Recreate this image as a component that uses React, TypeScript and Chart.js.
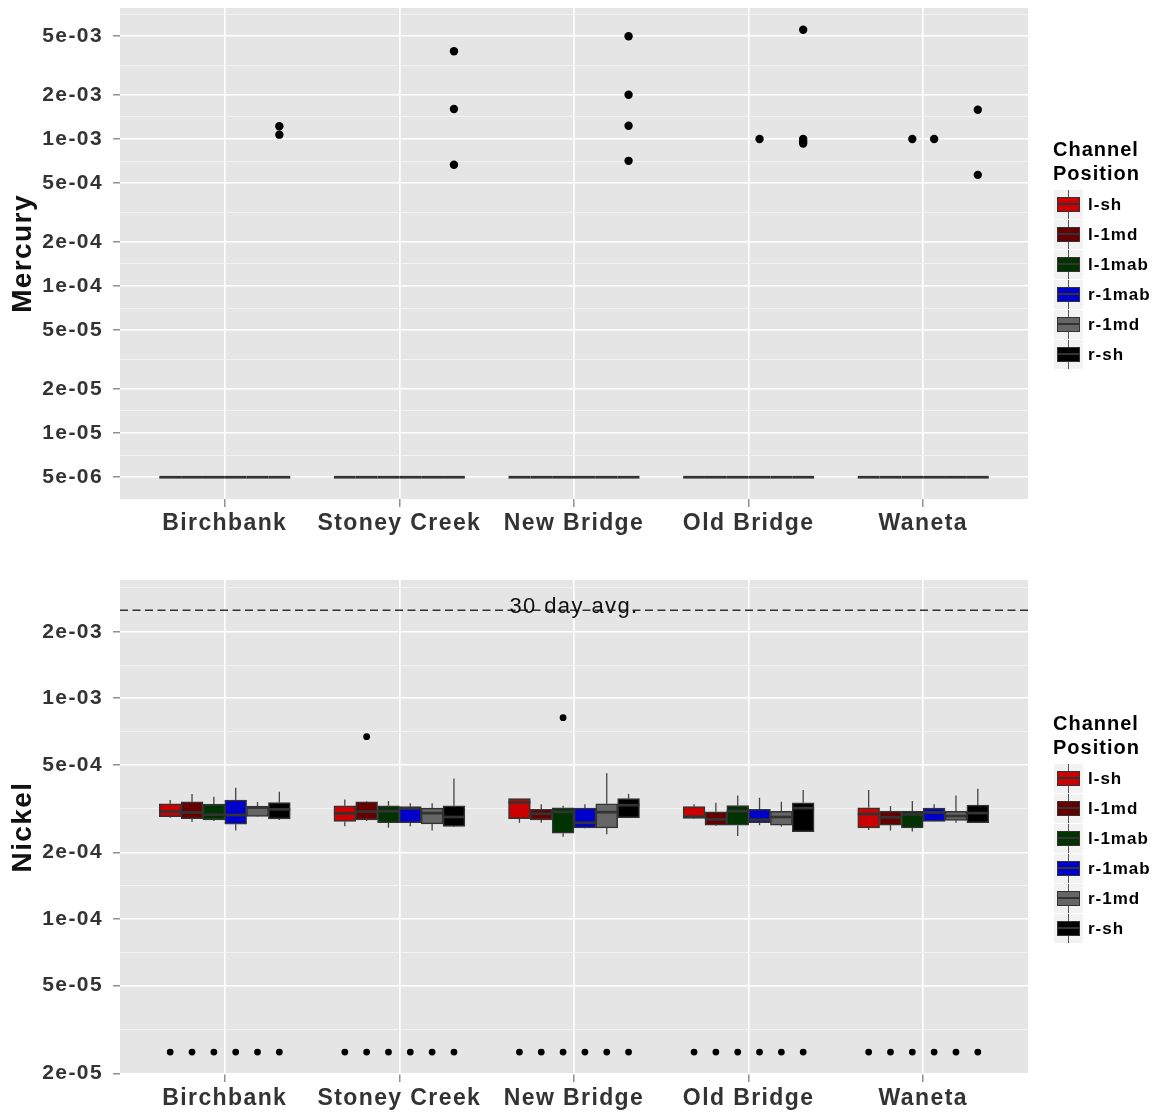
import React, { useEffect, useRef } from "react";
import { Chart, registerables } from "chart.js";

Chart.register(...registerables);

// ---------------- data ----------------
const sites = ["Birchbank", "Stoney Creek", "New Bridge", "Old Bridge", "Waneta"];
const positions = ["l-sh", "l-1md", "l-1mab", "r-1mab", "r-1md", "r-sh"];
const positionColors = ["#CC0000", "#660000", "#003300", "#0000CC", "#666666", "#000000"];

// Mercury box statistics per site: [min, q1, median, q3, max]
const hgLsh = [[5e-6, 5e-6, 5e-6, 5e-6, 5e-6], [5e-6, 5e-6, 5e-6, 5e-6, 5e-6], [5e-6, 5e-6, 5e-6, 5e-6, 5e-6], [5e-6, 5e-6, 5e-6, 5e-6, 5e-6], [5e-6, 5e-6, 5e-6, 5e-6, 5e-6]];
const hgL1md = [[5e-6, 5e-6, 5e-6, 5e-6, 5e-6], [5e-6, 5e-6, 5e-6, 5e-6, 5e-6], [5e-6, 5e-6, 5e-6, 5e-6, 5e-6], [5e-6, 5e-6, 5e-6, 5e-6, 5e-6], [5e-6, 5e-6, 5e-6, 5e-6, 5e-6]];
const hgL1mab = [[5e-6, 5e-6, 5e-6, 5e-6, 5e-6], [5e-6, 5e-6, 5e-6, 5e-6, 5e-6], [5e-6, 5e-6, 5e-6, 5e-6, 5e-6], [5e-6, 5e-6, 5e-6, 5e-6, 5e-6], [5e-6, 5e-6, 5e-6, 5e-6, 5e-6]];
const hgR1mab = [[5e-6, 5e-6, 5e-6, 5e-6, 5e-6], [5e-6, 5e-6, 5e-6, 5e-6, 5e-6], [5e-6, 5e-6, 5e-6, 5e-6, 5e-6], [5e-6, 5e-6, 5e-6, 5e-6, 5e-6], [5e-6, 5e-6, 5e-6, 5e-6, 5e-6]];
const hgR1md = [[5e-6, 5e-6, 5e-6, 5e-6, 5e-6], [5e-6, 5e-6, 5e-6, 5e-6, 5e-6], [5e-6, 5e-6, 5e-6, 5e-6, 5e-6], [5e-6, 5e-6, 5e-6, 5e-6, 5e-6], [5e-6, 5e-6, 5e-6, 5e-6, 5e-6]];
const hgRsh = [[5e-6, 5e-6, 5e-6, 5e-6, 5e-6], [5e-6, 5e-6, 5e-6, 5e-6, 5e-6], [5e-6, 5e-6, 5e-6, 5e-6, 5e-6], [5e-6, 5e-6, 5e-6, 5e-6, 5e-6], [5e-6, 5e-6, 5e-6, 5e-6, 5e-6]];

// Mercury outliers: [site index, value]
const hgOutLsh: number[][] = [];
const hgOutL1md: number[][] = [];
const hgOutL1mab = [[4, 1.0e-3]];
const hgOutR1mab = [[3, 1.0e-3], [4, 1.0e-3]];
const hgOutR1md: number[][] = [];
const hgOutRsh = [
  [0, 1.22e-3], [0, 1.07e-3],
  [1, 3.95e-3], [1, 1.6e-3], [1, 6.68e-4],
  [2, 5.0e-3], [2, 2.0e-3], [2, 1.23e-3], [2, 7.1e-4],
  [3, 5.54e-3], [3, 1.0e-3], [3, 9.6e-4], [3, 9.3e-4],
  [4, 1.58e-3], [4, 5.7e-4],
];

// Nickel box statistics per site: [min, q1, median, q3, max]
const niLsh = [
  [2.88e-4, 2.91e-4, 3.07e-4, 3.33e-4, 3.46e-4],
  [2.63e-4, 2.77e-4, 3.01e-4, 3.26e-4, 3.48e-4],
  [2.73e-4, 2.85e-4, 3.38e-4, 3.51e-4, 3.51e-4],
  [2.85e-4, 2.86e-4, 2.91e-4, 3.23e-4, 3.31e-4],
  [2.53e-4, 2.59e-4, 2.99e-4, 3.19e-4, 3.84e-4],
];
const niL1md = [
  [2.75e-4, 2.85e-4, 3.04e-4, 3.40e-4, 3.69e-4],
  [2.78e-4, 2.81e-4, 3.07e-4, 3.40e-4, 3.43e-4],
  [2.73e-4, 2.81e-4, 3.00e-4, 3.14e-4, 3.31e-4],
  [2.64e-4, 2.66e-4, 2.83e-4, 3.06e-4, 3.36e-4],
  [2.52e-4, 2.66e-4, 2.89e-4, 3.08e-4, 3.25e-4],
];
const niL1mab = [
  [2.78e-4, 2.81e-4, 2.97e-4, 3.32e-4, 3.58e-4],
  [2.59e-4, 2.73e-4, 3.08e-4, 3.26e-4, 3.43e-4],
  [2.36e-4, 2.45e-4, 3.06e-4, 3.19e-4, 3.26e-4],
  [2.38e-4, 2.66e-4, 3.08e-4, 3.27e-4, 3.63e-4],
  [2.49e-4, 2.59e-4, 2.98e-4, 3.08e-4, 3.43e-4],
];
const niR1mab = [
  [2.52e-4, 2.69e-4, 2.96e-4, 3.46e-4, 3.93e-4],
  [2.63e-4, 2.73e-4, 3.17e-4, 3.23e-4, 3.35e-4],
  [2.58e-4, 2.59e-4, 2.73e-4, 3.18e-4, 3.31e-4],
  [2.66e-4, 2.73e-4, 2.82e-4, 3.14e-4, 3.54e-4],
  [2.76e-4, 2.77e-4, 3.04e-4, 3.18e-4, 3.31e-4],
];
const niR1md = [
  [2.91e-4, 2.92e-4, 3.20e-4, 3.25e-4, 3.39e-4],
  [2.52e-4, 2.70e-4, 3.02e-4, 3.18e-4, 3.35e-4],
  [2.42e-4, 2.59e-4, 3.05e-4, 3.33e-4, 4.58e-4],
  [2.62e-4, 2.66e-4, 2.90e-4, 3.08e-4, 3.40e-4],
  [2.73e-4, 2.80e-4, 2.93e-4, 3.08e-4, 3.63e-4],
];
const niRsh = [
  [2.81e-4, 2.84e-4, 3.14e-4, 3.37e-4, 3.77e-4],
  [2.61e-4, 2.63e-4, 2.90e-4, 3.26e-4, 4.33e-4],
  [2.88e-4, 2.88e-4, 3.28e-4, 3.51e-4, 3.69e-4],
  [2.48e-4, 2.49e-4, 3.18e-4, 3.36e-4, 3.84e-4],
  [2.73e-4, 2.73e-4, 3.02e-4, 3.28e-4, 3.89e-4],
];

// Nickel outliers: [site index, value]
const niOutLsh = [[0, 2.5e-5], [1, 2.5e-5], [2, 2.5e-5], [3, 2.5e-5], [4, 2.5e-5]];
const niOutL1md = [[0, 2.5e-5], [1, 2.5e-5], [1, 6.7e-4], [2, 2.5e-5], [3, 2.5e-5], [4, 2.5e-5]];
const niOutL1mab = [[0, 2.5e-5], [1, 2.5e-5], [2, 2.5e-5], [2, 8.17e-4], [3, 2.5e-5], [4, 2.5e-5]];
const niOutR1mab = [[0, 2.5e-5], [1, 2.5e-5], [2, 2.5e-5], [3, 2.5e-5], [4, 2.5e-5]];
const niOutR1md = [[0, 2.5e-5], [1, 2.5e-5], [2, 2.5e-5], [3, 2.5e-5], [4, 2.5e-5]];
const niOutRsh = [[0, 2.5e-5], [1, 2.5e-5], [2, 2.5e-5], [3, 2.5e-5], [4, 2.5e-5]];

const niThirtyDayAvg = 0.0025;
const niThirtyDayLabel = "30 day avg.";

// axis ticks
const hgMajorTicks = [5e-3, 2e-3, 1e-3, 5e-4, 2e-4, 1e-4, 5e-5, 2e-5, 1e-5, 5e-6];
const hgMajorLabels = ["5e-03", "2e-03", "1e-03", "5e-04", "2e-04", "1e-04", "5e-05", "2e-05", "1e-05", "5e-06"];
const hgMinorTicks = [7.071e-3, 3.162e-3, 1.414e-3, 7.071e-4, 3.162e-4, 1.414e-4, 7.071e-5, 3.162e-5, 1.414e-5, 7.071e-6];
const hgAxisMin = 3.556e-6;
const hgAxisMax = 7.78e-3;

const niMajorTicks = [2e-3, 1e-3, 5e-4, 2e-4, 1e-4, 5e-5, 2e-5];
const niMajorLabels = ["2e-03", "1e-03", "5e-04", "2e-04", "1e-04", "5e-05", "2e-05"];
const niMinorTicks = [3.162e-3, 1.414e-3, 7.071e-4, 3.162e-4, 1.414e-4, 7.071e-5, 3.162e-5];
const niAxisMin = 1.99e-5;
const niAxisMax = 3.43e-3;

const legendTitle = ["Channel", "Position"];

// ---------------- rendering ----------------
const FONT = '"Liberation Sans", Arial, Helvetica, sans-serif';
const X_MIN = -0.6;
const X_MAX = 4.6;
const DODGE = 0.125;
const LETTER_SPACING = "1.4px";

const spacingPlugin = {
  id: "spacing",
  beforeUpdate(chart: any) {
    chart.ctx.letterSpacing = LETTER_SPACING;
  },
  beforeDraw(chart: any) {
    chart.ctx.letterSpacing = LETTER_SPACING;
  },
};

function makePanelPlugin(panel: any) {
  return {
    id: "panelDeco",
    beforeDraw(chart: any) {
      const { ctx, chartArea: a } = chart;
      ctx.save();
      ctx.fillStyle = "#E5E5E5";
      ctx.fillRect(a.left, a.top, a.right - a.left, a.bottom - a.top);
      ctx.restore();
    },
    beforeDatasetsDraw(chart: any) {
      const { ctx } = chart;
      const ys = chart.scales.y;
      ctx.save();
      ctx.strokeStyle = "#444444";
      ctx.lineWidth = 1.3;
      chart.data.datasets.forEach((ds: any, i: number) => {
        if (!ds.stats) return;
        const meta = chart.getDatasetMeta(i);
        meta.data.forEach((el: any, k: number) => {
          const s = ds.stats[k];
          const x = el.x;
          ctx.beginPath();
          ctx.moveTo(x, ys.getPixelForValue(s[4]));
          ctx.lineTo(x, ys.getPixelForValue(s[3]));
          ctx.moveTo(x, ys.getPixelForValue(s[1]));
          ctx.lineTo(x, ys.getPixelForValue(s[0]));
          ctx.stroke();
        });
      });
      ctx.restore();
    },
    afterDatasetDraw(chart: any, args: any) {
      const ds = chart.data.datasets[args.index];
      if (!ds.stats) return;
      const { ctx } = chart;
      const ys = chart.scales.y;
      ctx.save();
      ctx.strokeStyle = "#333333";
      ctx.lineWidth = 2.7;
      args.meta.data.forEach((el: any, k: number) => {
        const y = ys.getPixelForValue(ds.stats[k][2]);
        ctx.beginPath();
        ctx.moveTo(el.x - el.width / 2, y);
        ctx.lineTo(el.x + el.width / 2, y);
        ctx.stroke();
      });
      ctx.restore();
    },
    afterDatasetsDraw(chart: any) {
      if (panel.hline == null) return;
      const { ctx, chartArea: a } = chart;
      const y = chart.scales.y.getPixelForValue(panel.hline);
      ctx.save();
      ctx.fillStyle = "#111111";
      ctx.font = `22px ${FONT}`;
      ctx.textAlign = "center";
      ctx.textBaseline = "alphabetic";
      ctx.fillText(panel.hlineLabel, (a.left + a.right) / 2, y + 2.5);
      ctx.restore();
    },
  };
}

function makeConfig(panel: any, geom: any) {
  const datasets: any[] = [];
  positions.forEach((pos, j) => {
    const off = (j - 2.5) * DODGE;
    datasets.push({
      type: "scatter",
      label: pos + " outliers",
      order: 0,
      data: panel.outliers[j].map((o: number[]) => ({ x: o[0] + off, y: o[1] })),
      pointRadius: geom.pointRadius,
      pointHoverRadius: geom.pointRadius,
      pointBackgroundColor: "#000000",
      pointBorderColor: "#000000",
      pointBorderWidth: 0,
    });
  });
  if (panel.hline != null) {
    datasets.push({
      type: "line",
      label: panel.hlineLabel,
      order: 1,
      data: [{ x: X_MIN, y: panel.hline }, { x: X_MAX, y: panel.hline }],
      borderColor: "#333333",
      borderWidth: 1.5,
      borderDash: [8, 4.5],
      pointRadius: 0,
      fill: false,
    });
  }
  positions.forEach((pos, j) => {
    const off = (j - 2.5) * DODGE;
    datasets.push({
      type: "bar",
      label: pos,
      order: 2,
      stats: panel.stats[j],
      data: panel.stats[j].map((s: number[], i: number) => ({ x: i + off, y: [s[1], s[3]] })),
      backgroundColor: positionColors[j],
      borderColor: "#333333",
      borderWidth: 1.5,
      borderSkipped: false,
      grouped: false,
      barPercentage: 1,
      categoryPercentage: 1,
    });
  });

  const majorLabel = (v: number) => {
    const idx = panel.majors.findIndex((m: number) => Math.abs(m - v) / m < 1e-6);
    return idx >= 0 ? panel.labels[idx] : "";
  };

  return {
    type: "bar",
    data: { datasets },
    options: {
      responsive: false,
      maintainAspectRatio: false,
      animation: false,
      events: [],
      layout: { padding: { top: geom.padTop, right: 140, bottom: 0, left: 0 } },
      plugins: { legend: { display: false }, tooltip: { enabled: false }, title: { display: false } },
      scales: {
        x: {
          type: "linear",
          min: X_MIN,
          max: X_MAX,
          bounds: "data",
          offset: false,
          afterBuildTicks: (s: any) => {
            s.ticks = sites.map((_, i) => ({ value: i }));
          },
          afterFit: (s: any) => {
            s.height = geom.xAxisH;
            s.paddingLeft = 0;
            s.paddingRight = 0;
          },
          ticks: {
            autoSkip: false,
            maxRotation: 0,
            minRotation: 0,
            padding: 3,
            color: "#333333",
            font: { family: FONT, size: 23, weight: "bold" },
            callback: (v: number) => sites[Math.round(v)] ?? "",
          },
          grid: {
            offset: false,
            color: "#FFFFFF",
            lineWidth: 1.6,
            drawTicks: true,
            tickLength: 8,
            tickColor: "#7F7F7F",
            tickWidth: 1.3,
          },
          border: { display: false },
        },
        y: {
          type: "logarithmic",
          position: "left",
          min: panel.yMin,
          max: panel.yMax,
          bounds: "data",
          afterBuildTicks: (s: any) => {
            const t = [
              ...panel.majors.map((v: number) => ({ value: v, minor: false })),
              ...panel.minors
                .filter((v: number) => v >= panel.yMin && v <= panel.yMax)
                .map((v: number) => ({ value: v, minor: true })),
            ];
            t.sort((a: any, b: any) => a.value - b.value);
            s.ticks = t;
          },
          afterFit: (s: any) => {
            s.width = 120;
            s.paddingTop = 0;
            s.paddingBottom = 0;
          },
          ticks: {
            autoSkip: false,
            padding: 10,
            color: "#333333",
            font: { family: FONT, size: 21, weight: "bold" },
            callback: (v: number, i: number, ticks: any[]) => (ticks[i] && ticks[i].minor ? "" : majorLabel(v)),
          },
          grid: {
            offset: false,
            color: (c: any) => (c.tick && c.tick.minor ? "#F3F3F3" : "#FFFFFF"),
            lineWidth: (c: any) => (c.tick && c.tick.minor ? 0.9 : 1.6),
            drawTicks: true,
            tickLength: 7,
            tickColor: (c: any) => (c.tick && c.tick.minor ? "rgba(0,0,0,0)" : "#7F7F7F"),
            tickWidth: 1.3,
          },
          border: { display: false },
          title: {
            display: true,
            text: panel.title,
            color: "#111111",
            font: { family: FONT, size: 28, weight: "bold" },
            padding: { top: 6, bottom: 0 },
          },
        },
      },
    },
    plugins: [spacingPlugin, makePanelPlugin(panel)],
  };
}

const mercuryPanel = {
  title: "Mercury",
  stats: [hgLsh, hgL1md, hgL1mab, hgR1mab, hgR1md, hgRsh],
  outliers: [hgOutLsh, hgOutL1md, hgOutL1mab, hgOutR1mab, hgOutR1md, hgOutRsh],
  yMin: hgAxisMin,
  yMax: hgAxisMax,
  majors: hgMajorTicks,
  labels: hgMajorLabels,
  minors: hgMinorTicks,
  hline: null,
  hlineLabel: "",
};

const nickelPanel = {
  title: "Nickel",
  stats: [niLsh, niL1md, niL1mab, niR1mab, niR1md, niRsh],
  outliers: [niOutLsh, niOutL1md, niOutL1mab, niOutR1mab, niOutR1md, niOutRsh],
  yMin: niAxisMin,
  yMax: niAxisMax,
  majors: niMajorTicks,
  labels: niMajorLabels,
  minors: niMinorTicks,
  hline: niThirtyDayAvg,
  hlineLabel: niThirtyDayLabel,
};

function PanelChart({ panel, top, height, geom }: any) {
  const ref = useRef<HTMLCanvasElement | null>(null);
  useEffect(() => {
    if (!ref.current) return;
    const chart = new Chart(ref.current, makeConfig(panel, geom) as any);
    return () => chart.destroy();
  }, []);
  return (
    <canvas
      ref={ref}
      width={1168}
      height={height}
      style={{ position: "absolute", left: 0, top, width: 1168, height }}
    />
  );
}

function Legend({ top }: { top: number }) {
  return (
    <div style={{ position: "absolute", left: 1053, top, width: 115, fontFamily: FONT, color: "#000" }}>
      <div style={{ fontSize: 20, fontWeight: "bold", lineHeight: "24px", letterSpacing: "1px", whiteSpace: "nowrap" }}>
        {legendTitle[0]}
        <br />
        {legendTitle[1]}
      </div>
      {positions.map((p, i) => (
        <div key={p} style={{ position: "absolute", left: 0, top: 52.5 + i * 30, height: 29, width: 115 }}>
          <div style={{ position: "absolute", left: 1, top: 0, width: 29, height: 29, background: "#F2F2F2" }}>
            <div style={{ position: "absolute", left: 14, top: 0, width: 1, height: 29, background: "#555" }} />
            <div
              style={{
                position: "absolute",
                left: 3,
                top: 7,
                width: 23,
                height: 15,
                boxSizing: "border-box",
                background: positionColors[i],
                border: "1.3px solid #333",
              }}
            />
            <div style={{ position: "absolute", left: 3, top: 13.5, width: 23, height: 2, background: "#333" }} />
          </div>
          <div
            style={{
              position: "absolute",
              left: 35,
              top: 0,
              lineHeight: "29px",
              fontSize: 17,
              fontWeight: "bold",
              letterSpacing: "1px",
              whiteSpace: "nowrap",
            }}
          >
            {p}
          </div>
        </div>
      ))}
    </div>
  );
}

export default function App() {
  return (
    <div style={{ position: "absolute", left: 0, top: 0, width: 1168, height: 1115, background: "#FFFFFF", overflow: "hidden" }}>
      <PanelChart panel={mercuryPanel} top={0} height={560} geom={{ padTop: 8, xAxisH: 61, pointRadius: 4.2 }} />
      <PanelChart panel={nickelPanel} top={560} height={555} geom={{ padTop: 20, xAxisH: 41, pointRadius: 3.4 }} />
      <Legend top={137} />
      <Legend top={711} />
    </div>
  );
}
